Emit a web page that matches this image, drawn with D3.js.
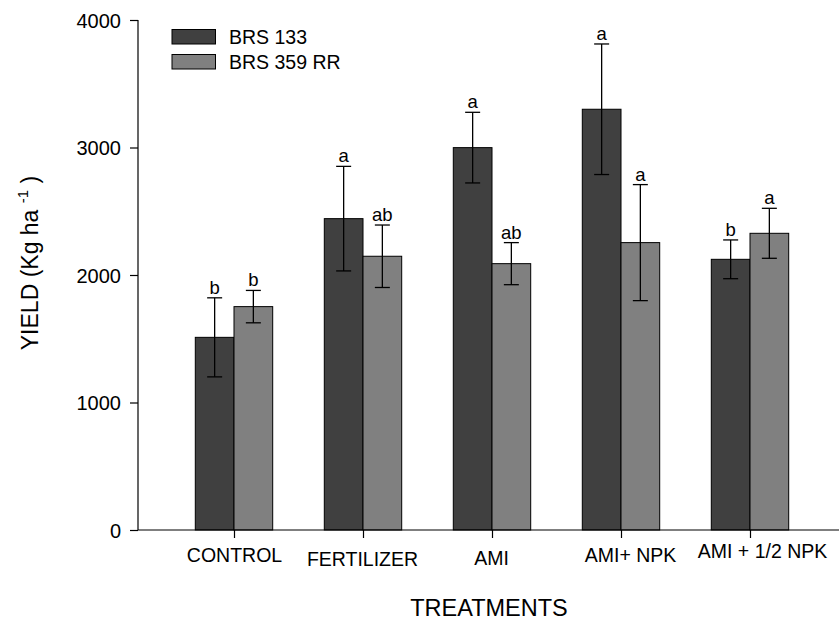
<!DOCTYPE html>
<html><head><meta charset="utf-8">
<script src="https://cdn.jsdelivr.net/npm/d3@7"></script>
<style>body{margin:0;background:#fff}svg{display:block}text{font-family:Arial,"Liberation Sans",sans-serif;fill:#000}</style>
</head><body><svg id="c" width="839" height="620"></svg>
<script>
const categories = ["CONTROL","FERTILIZER","AMI","AMI+ NPK","AMI + 1/2 NPK"];
const seriesNames = ["BRS 133","BRS 359 RR"];
const brs133 = [1511, 2442, 2999, 3300, 2123];
const brs133Err = [310, 410, 277, 512, 152];
const brs359 = [1752, 2147, 2089, 2254, 2327];
const brs359Err = [127, 245, 165, 455, 196];
const brs133Letters = ["b","a","a","a","b"];
const brs359Letters = ["b","ab","ab","a","a"];
const yTicks = [0,1000,2000,3000,4000];

const FONT = "Arial,'Liberation Sans',sans-serif";
const svg = d3.select("#c");
const colors = ["#404040","#808080"];
const y = d3.scaleLinear().domain([0,4000]).range([530,20]);
const x = d3.scaleLinear().domain([0,4]).range([234,750]);
const barW = 38.7;
const series = [
  {vals:brs133, err:brs133Err, let:brs133Letters},
  {vals:brs359, err:brs359Err, let:brs359Letters}
];

series.forEach((s,si)=>{
  const g = svg.append("g");
  s.vals.forEach((v,i)=>{
    const x0 = si===0 ? x(i)-barW : x(i);
    g.append("rect").attr("x",x0).attr("y",y(v)).attr("width",barW).attr("height",y(0)-y(v))
      .attr("fill",colors[si]).attr("stroke","#000").attr("stroke-width",1);
  });
});
series.forEach((s,si)=>{
  s.vals.forEach((v,i)=>{
    const cx = si===0 ? x(i)-barW/2 : x(i)+barW/2;
    const hi = y(v+s.err[i]), lo = y(v-s.err[i]);
    svg.append("line").attr("x1",cx).attr("x2",cx).attr("y1",hi).attr("y2",lo).attr("stroke","#000").attr("stroke-width",1.3);
    [hi,lo].forEach(yy=>svg.append("line").attr("x1",cx-7.5).attr("x2",cx+7.5).attr("y1",yy).attr("y2",yy).attr("stroke","#000").attr("stroke-width",1.3));
    svg.append("text").attr("x",cx).attr("y",hi-4).attr("text-anchor","middle").attr("font-size",18.5).text(s.let[i]);
  });
});

// axes
const yAxis = d3.axisLeft(y).tickValues(yTicks).tickSize(8).tickFormat(d3.format("d"));
const ya = svg.append("g").attr("transform","translate(138,0)").call(yAxis);
ya.attr("font-size",null).attr("font-family",null);
ya.select(".domain").remove();
ya.selectAll("line").attr("stroke","#000").attr("stroke-width",1.2);
ya.selectAll("text").attr("font-size",20).attr("x",-17).attr("dy","0.36em").style("font-family",FONT);
svg.append("line").attr("x1",138).attr("x2",138).attr("y1",20).attr("y2",530).attr("stroke","#000").attr("stroke-width",1.2);
svg.append("line").attr("x1",138).attr("x2",839).attr("y1",530).attr("y2",530).attr("stroke","#000").attr("stroke-width",1.2);

const xAxis = d3.axisBottom(x).tickValues(d3.range(categories.length)).tickSize(8).tickFormat(i=>categories[i]);
const xa = svg.append("g").attr("transform","translate(0,530)").call(xAxis);
xa.attr("font-size",null).attr("font-family",null);
xa.select(".domain").remove();
xa.selectAll("line").attr("stroke","#000").attr("stroke-width",1.2);
const labelShiftX = [0,-1,-1,9,12];
const labelShiftY = [0,4,3,0,-4];
xa.selectAll("text").attr("font-size",19.5).attr("dy",0).attr("y",(d,i)=>32+labelShiftY[i])
  .attr("dx",(d,i)=>labelShiftX[i]).style("font-family",FONT);

svg.append("text").attr("x",489).attr("y",615.5).attr("text-anchor","middle").attr("font-size",23.5).text("TREATMENTS");
const yl = svg.append("text").attr("transform","translate(38,263) rotate(-90)").attr("text-anchor","middle").attr("font-size",23);
yl.append("tspan").text("YIELD (Kg ha ");
yl.append("tspan").attr("font-size",15).attr("dy",-10).text("-1");
yl.append("tspan").attr("dy",10).text(" )");

// legend
seriesNames.forEach((n,i)=>{
  svg.append("rect").attr("x",172).attr("y",29.5+25*i).attr("width",43.5).attr("height",14.5).attr("fill",colors[i]).attr("stroke","#000").attr("stroke-width",1);
  svg.append("text").attr("x",229).attr("y",44+25*i).attr("font-size",19.5).text(n);
});
</script></body></html>
